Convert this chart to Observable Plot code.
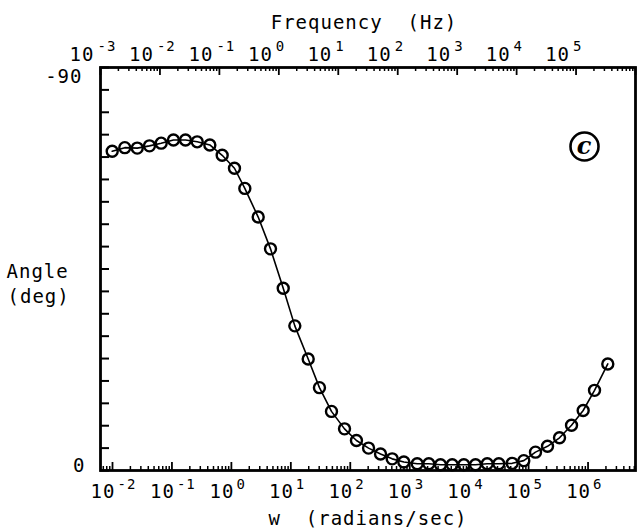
<!DOCTYPE html>
<html><head><meta charset="utf-8">
<script src="https://cdn.jsdelivr.net/npm/d3@7"></script>
<script src="https://cdn.jsdelivr.net/npm/@observablehq/plot@0.6"></script>
<style>
body{margin:0;background:#fff}
svg{display:block}
svg text{letter-spacing:1px}
</style>
</head><body><div id="chart"></div>
<script>
// angular frequency w (rad/s) of each measured point
const omega = [0.00989, 0.0161, 0.0261, 0.0419, 0.0659, 0.106, 0.169, 0.266, 0.434, 0.700,
  1.127, 1.683, 2.825, 4.55, 7.45, 11.67, 19.6, 30.3, 48.3, 80.0,
  127, 203, 323, 507, 796, 1337, 2094, 3296, 5188, 8128,
  12790, 20140, 31550, 52970, 82990, 130600, 208000, 331100, 527200, 827900,
  1285000, 2148000];
// phase angle (deg)
const angle = [-71.3, -72.1, -72.0, -72.5, -73.1, -73.8, -73.8, -73.4, -72.7, -70.4,
  -67.5, -63.0, -56.6, -49.5, -40.7, -32.3, -24.9, -18.5, -13.2, -9.3,
  -6.7, -5.0, -3.7, -2.6, -1.9, -1.5, -1.5, -1.3, -1.3, -1.3,
  -1.3, -1.5, -1.5, -1.6, -2.2, -4.1, -5.4, -7.3, -10.1, -13.4,
  -17.9, -23.8];
const bottomExponents = [-2, -1, 0, 1, 2, 3, 4, 5, 6];      // w decades (rad/s)
const topExponents = [-3, -2, -1, 0, 1, 2, 3, 4, 5];        // f decades (Hz)
const yTickLabels = [-90, 0];
const yTicks = d3.range(-90, 1, 5);

const TWO_PI = 2 * Math.PI;
const data = omega.map((w, i) => ({w, a: angle[i]}));

const W = 639, H = 530, mL = 100, mR = 4, mT = 67, mB = 60;
const fw = W - mL - mR, fh = H - mT - mB;
const xDomain = [TWO_PI * 1e-3, TWO_PI * 1e6];
const inDom = v => v >= xDomain[0] * 0.999 && v <= xDomain[1] * 1.001;

// log ticks
const bottomMajor = [], bottomMinor = [], topMajor = [], topMinor = [];
for (let k = -4; k <= 7; k++) {
  for (let m = 1; m <= 9; m++) {
    const vb = m * 10 ** k;
    if (inDom(vb)) (m === 1 ? bottomMajor : bottomMinor).push(vb);
    const vt = TWO_PI * m * 10 ** k;
    if (inDom(vt)) (m === 1 ? topMajor : topMinor).push(vt);
  }
}

const font = "DejaVu Sans Mono";
const T = {lineAnchor: "bottom", fontSize: 19};
const chart = Plot.plot({
  width: W, height: H,
  marginLeft: mL, marginRight: mR, marginTop: mT, marginBottom: mB,
  style: {fontFamily: font, fontSize: "18px", background: "white", color: "black"},
  x: {type: "log", domain: xDomain, axis: null},
  y: {domain: [0, -90], axis: null},
  marks: [
    Plot.frame({stroke: "black", strokeWidth: 2.8}),
    // bottom ticks
    Plot.ruleX(bottomMajor, {x: d => d, insetTop: fh - 8, stroke: "black", strokeWidth: 1.8}),
    Plot.ruleX(bottomMinor, {x: d => d, insetTop: fh - 4, stroke: "black", strokeWidth: 1.5}),
    // top ticks
    Plot.ruleX(topMajor, {x: d => d, insetBottom: fh - 8, stroke: "black", strokeWidth: 1.8}),
    Plot.ruleX(topMinor, {x: d => d, insetBottom: fh - 4, stroke: "black", strokeWidth: 1.5}),
    // left ticks
    Plot.ruleY(yTicks, {y: d => d, insetRight: fw - 9, stroke: "black", strokeWidth: 2}),
    // bottom tick labels
    Plot.text(bottomExponents, {...T, x: d => 10 ** d, frameAnchor: "bottom", dy: 27, dx: 3, text: () => "10", textAnchor: "end"}),
    Plot.text(bottomExponents, {...T, fontSize: 14, x: d => 10 ** d, frameAnchor: "bottom", dy: 18, dx: 5, text: d => String(d), textAnchor: "start"}),
    // top tick labels
    Plot.text(topExponents, {...T, x: d => TWO_PI * 10 ** d, frameAnchor: "top", dy: -7, dx: -6, text: () => "10", textAnchor: "end"}),
    Plot.text(topExponents, {...T, fontSize: 14, x: d => TWO_PI * 10 ** d, frameAnchor: "top", dy: -17, dx: -3, text: d => String(d), textAnchor: "start"}),
    // y tick labels
    Plot.text([yTickLabels[0]], {...T, y: d => d, frameAnchor: "left", dx: -18, dy: 15, text: d => String(d), textAnchor: "end"}),
    Plot.text([yTickLabels[1]], {...T, y: d => d, frameAnchor: "left", dx: -15, dy: 1, text: d => String(d), textAnchor: "end"}),
    // axis titles
    Plot.text(["Frequency\u00a0 (Hz)"], {...T, frameAnchor: "top", dy: -39, dx: -4, text: d => d, textAnchor: "middle"}),
    Plot.text(["w\u00a0 (radians/sec)"], {...T, frameAnchor: "bottom", dy: 54, text: d => d, textAnchor: "middle"}),
    Plot.text(["Angle"], {...T, frameAnchor: "left", dx: -94, dy: 8.5, text: d => d, textAnchor: "start"}),
    Plot.text(["(deg)"], {...T, frameAnchor: "left", dx: -93, dy: 33.5, text: d => d, textAnchor: "start"}),
    // panel label
    Plot.dot(["c"], {frameAnchor: "top-right", dx: -51, dy: 79, r: 14, stroke: "black", strokeWidth: 2.6, fill: "none"}),
    Plot.text(["c"], {frameAnchor: "top-right", dx: -51, dy: 79, text: d => d, textAnchor: "middle", lineAnchor: "middle", fontSize: 24, fontStyle: "italic", fontWeight: "bold", fontFamily: "DejaVu Serif"}),
    // data
    Plot.line(data, {x: "w", y: "a", stroke: "black", strokeWidth: 1.6}),
    Plot.dot(data, {x: "w", y: "a", r: 5.5, stroke: "black", strokeWidth: 2.4, fill: "none"})
  ]
});
document.getElementById("chart").append(chart);
</script>
</body></html>
